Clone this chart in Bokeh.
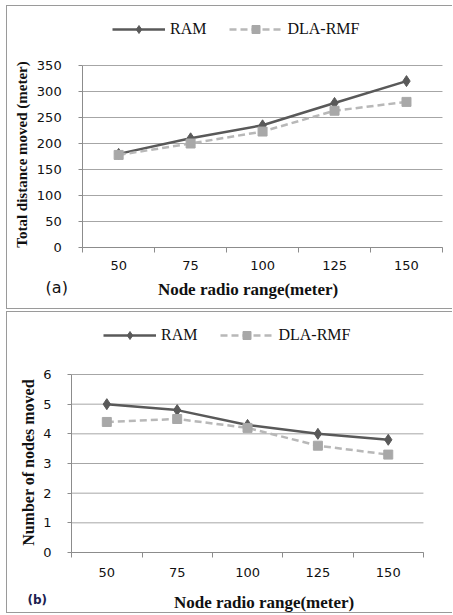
import math
from bokeh.plotting import figure
from bokeh.models import Legend, LegendItem, FixedTicker, Range1d, Label
from bokeh.layouts import column
from bokeh.embed import file_html
from bokeh.resources import INLINE

categories = ["50", "75", "100", "125", "150"]
ram_distance = [180, 210, 235, 278, 320]
dla_distance = [178, 200, 223, 263, 280]
ram_nodes = [5.0, 4.8, 4.3, 4.0, 3.8]
dla_nodes = [4.4, 4.5, 4.2, 3.6, 3.3]
y_ticks_a = [0, 50, 100, 150, 200, 250, 300, 350]
y_ticks_b = [0, 1, 2, 3, 4, 5, 6]
x_title = "Node radio range(meter)"

RAM_COLOR = "#595959"
DLA_COLOR = "#b8b8b8"
DLA_MARK = "#a8a8a8"
GRID = "#a6a6a6"
AXIS = "#8c8c8c"
BORDER = "1px solid #9a9a9a"

xs = list(range(len(categories)))
X_LO, X_HI = -0.5, len(categories) - 0.5


def make_panel(ram, dla, yticks, ytitle, ytitle_size, tag, tag_style, h, margin,
               canvas, axes_px, xl_standoff, yl_standoff, ytitle_px, xtitle_px,
               legend_px, tag_px):
    # canvas = (left, top, right, bottom) in page pixels; the plot frame fills
    # the whole canvas so that every text can be placed in it
    c_left, c_top, c_right, c_bottom = canvas
    ax_left, ax_right, y_top_px, y_zero_px = axes_px
    ppx = (ax_right - ax_left) / (X_HI - X_LO)
    ppu = (y_zero_px - y_top_px) / yticks[-1]
    x_start = X_LO - (ax_left - c_left) / ppx
    x_end = X_HI + (c_right - ax_right) / ppx
    y_start = -(c_bottom - y_zero_px) / ppu
    y_end = yticks[-1] + (y_top_px - c_top) / ppu

    def dx(px):
        return x_start + (px - c_left) / ppx

    def dy(py):
        return y_start + (c_bottom - py) / ppu

    p = figure(width=446, height=h, output_backend="svg", toolbar_location=None,
               x_range=Range1d(x_start, x_end), y_range=Range1d(y_start, y_end),
               min_border_left=0, min_border_right=0,
               min_border_top=0, min_border_bottom=0,
               background_fill_color="white", border_fill_color="white",
               outline_line_color=None, margin=margin,
               styles={"border-left": BORDER, "border-top": BORDER,
                       "border-bottom": BORDER})
    p.xgrid.visible = False
    p.ygrid.visible = False

    # horizontal grid lines across the category area only
    p.segment(x0=X_LO, x1=X_HI, y0=yticks, y1=yticks, line_color=GRID, line_width=1)

    xa = p.xaxis[0]
    xa.fixed_location = yticks[0]
    xa.bounds = (X_LO, X_HI)
    xa.ticker = FixedTicker(ticks=xs, minor_ticks=[i - 0.5 for i in range(len(categories) + 1)])
    xa.major_label_overrides = {i: c for i, c in enumerate(categories)}
    xa.major_tick_out = 0
    xa.major_tick_in = 0
    xa.minor_tick_out = 5
    xa.minor_tick_in = 0
    xa.minor_tick_line_color = AXIS
    xa.axis_line_color = AXIS
    xa.major_label_text_font = "DejaVu Sans"
    xa.major_label_text_font_size = "13px"
    xa.major_label_text_color = "#111111"
    xa.major_label_standoff = xl_standoff

    ya = p.yaxis[0]
    ya.fixed_location = X_LO
    ya.bounds = (yticks[0], yticks[-1])
    ya.ticker = FixedTicker(ticks=yticks)
    ya.major_tick_out = 4
    ya.major_tick_in = 0
    ya.minor_tick_line_color = None
    ya.major_tick_line_color = AXIS
    ya.axis_line_color = AXIS
    ya.major_label_text_font = "DejaVu Sans"
    ya.major_label_text_font_size = "13px"
    ya.major_label_text_color = "#111111"
    ya.major_label_standoff = yl_standoff

    l1 = p.line(xs, ram, line_color=RAM_COLOR, line_width=2.5)
    m1 = p.scatter(xs, ram, marker="diamond", size=11, fill_color=RAM_COLOR,
                   line_color=RAM_COLOR)
    l2 = p.line(xs, dla, line_color=DLA_COLOR, line_width=2.5, line_dash="7 4")
    m2 = p.scatter(xs, dla, marker="square", size=9, fill_color=DLA_MARK,
                   line_color=DLA_MARK)

    p.add_layout(Label(x=dx(ytitle_px[0]), y=dy(ytitle_px[1]), text=ytitle,
                       angle=math.pi / 2, text_align="center", text_baseline="middle",
                       text_font="Liberation Serif", text_font_style="bold",
                       text_font_size=ytitle_size, text_color="#111111"))
    p.add_layout(Label(x=dx(xtitle_px[0]), y=dy(xtitle_px[1]), text=x_title,
                       text_align="center", text_baseline="middle",
                       text_font="Liberation Serif", text_font_style="bold",
                       text_font_size="17px", text_color="#111111"))
    p.add_layout(Label(x=dx(tag_px[0]), y=dy(tag_px[1]), text=tag,
                       text_align="left", text_baseline="middle", **tag_style))

    legend = Legend(items=[LegendItem(label="RAM", renderers=[l1, m1]),
                           LegendItem(label="DLA-RMF", renderers=[l2, m2])],
                    orientation="horizontal",
                    location=(legend_px[0] - c_left, c_bottom - legend_px[1]),
                    glyph_width=53, glyph_height=20, label_standoff=5,
                    spacing=23, padding=0, margin=0,
                    border_line_color=None, background_fill_alpha=0,
                    label_text_font="Liberation Serif",
                    label_text_font_size="16px", label_text_color="#111111")
    p.add_layout(legend, "center")
    return p


pa = make_panel(ram_distance, dla_distance, y_ticks_a, "Total distance moved (meter)",
                "15px", "(a)",
                dict(text_font="DejaVu Sans", text_font_size="16px",
                     text_color="#111111"),
                h=304, margin=(5, 0, 0, 6), canvas=(7, 6, 452, 310),
                axes_px=(82, 441, 65, 247), xl_standoff=8, yl_standoff=17,
                ytitle_px=(21, 154), xtitle_px=(247, 289),
                legend_px=(112, 39), tag_px=(45, 287))

pb = make_panel(ram_nodes, dla_nodes, y_ticks_b, "Number of nodes moved",
                "16px", "(b)",
                dict(text_font="DejaVu Sans", text_font_size="12px",
                     text_font_style="bold", text_color="#1c2150"),
                h=302, margin=(2, 0, 0, 6), canvas=(7, 312, 452, 614),
                axes_px=(71, 422, 374, 552), xl_standoff=10, yl_standoff=16,
                ytitle_px=(28, 462), xtitle_px=(263, 602),
                legend_px=(103, 345), tag_px=(27, 599))

layout = column(pa, pb, spacing=0)
open("out.html", "w").write(file_html(layout, INLINE))
